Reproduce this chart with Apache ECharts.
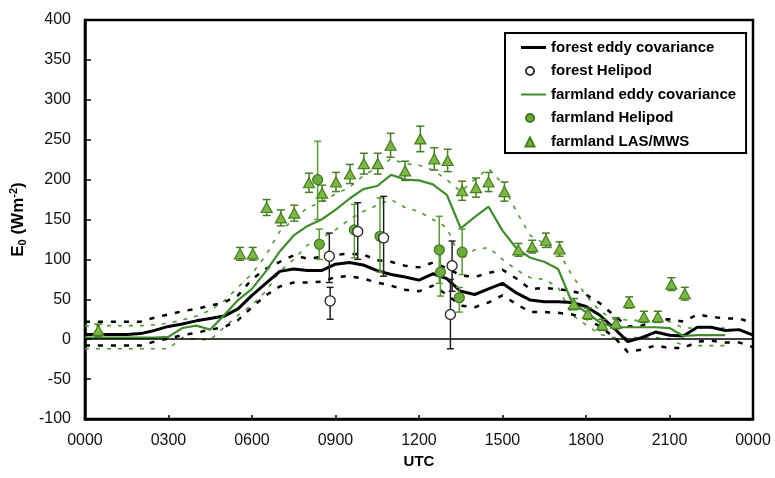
<!DOCTYPE html>
<html>
<head>
<meta charset="utf-8">
<script src="https://cdn.jsdelivr.net/npm/echarts@6/dist/echarts.min.js"></script>
<style>
html,body{margin:0;padding:0;background:#fff;}
#chart{width:775px;height:478px;}
</style>
</head>
<body>
<div id="chart"></div>
<script>
// ---- data ----
const hours = [0,0.5,1,1.5,2,2.5,3,3.5,4,4.5,5,5.5,6,6.5,7,7.5,8,8.5,9,9.5,10,10.5,11,11.5,12,12.5,13,13.5,14,14.5,15,15.5,16,16.5,17,17.5,18,18.5,19,19.5,20,20.5,21,21.5,22,22.5,23,23.5,24];

const forestEC = [6,6,6,6,7,11,16,19,23,26,29,38,55,70,85,88,86,86,94,96,93,86,81,78,74,82,76,60,56,63,70,58,49,47,47,46,41,30,14,-3,2,9,5,4,15,15,11,12,5];
const forestECUpper = [22,22,22,22,22,27,31,35,38,42,46,55,75,88,97,105,101,103,106,107,106,99,97,92,90,96,89,80,78,83,87,76,63,64,63,60,56,45,30,16,17,24,25,22,31,28,26,26,20];
const forestECLower = [-8,-8,-8,-8,-8,-3,1,5,8,12,15,24,40,55,66,71,71,72,78,79,76,71,67,62,60,67,56,42,40,46,55,44,34,34,33,31,26,16,3,-16,-13,-8,-11,-11,-3,-2,-4,-4,-10];

const farmEC = [2,2,2,2,2,2,3,14,17,12,30,49,63,85,110,130,142,150,162,176,188,192,206,200,199,194,181,139,153,166,136,114,102,97,88,46,34,21,15,15,15,15,14,4,5,5,5];
const farmECUpper = [17,17,17,17,17,18,20,24,29,36,48,65,82,105,135,150,165,172,182,190,205,215,226,220,218,212,200,185,200,214,195,160,130,120,110,80,55,35,25,24,23,23,22,14,14,14,14];
const farmECLower = [-12,-12,-12,-12,-12,-12,-12,2,0,-1,15,30,43,60,85,100,118,127,137,150,160,168,175,165,160,150,140,100,112,115,100,87,77,75,65,30,18,6,2,2,2,2,0,-8,-8,-8,-8];

const forestHeliHours = [8.78, 8.81, 9.80, 10.73, 13.19, 13.13];
const forestHeliValues = [104, 48, 135, 127, 92, 31];
const forestHeliLow = [71, 25, 100, 79, 60, -12];
const forestHeliHigh = [133, 65, 171, 179, 123, 75];

const farmHeliHours = [8.36, 8.42, 9.68, 10.60, 12.73, 12.77, 13.55, 13.45];
const farmHeliValues = [200, 119, 137, 129, 112, 84, 109, 52];
const farmHeliLow = [150, 100, 102, 84, 70, 54, 81, 34];
const farmHeliHigh = [248, 138, 169, 177, 154, 114, 138, 65];

const lasHours = [0.48,5.57,6.03,6.53,7.04,7.52,8.05,8.52,9.02,9.52,10.02,10.52,10.98,11.50,12.05,12.55,13.03,13.55,14.05,14.50,15.07,15.57,16.07,16.56,17.05,17.57,18.07,18.58,19.08,19.55,20.08,20.58,21.07,21.55];
const lasValues = [11,107,107,165,152,158,196,183,197,207,220,220,243,211,251,226,224,186,190,197,185,112,116,124,113,44,32,18,20,46,28,28,69,57];
const lasErr = [8,8,8,10,10,10,12,10,12,12,13,13,15,12,16,14,14,12,12,12,12,8,8,9,9,7,7,7,7,7,7,7,8,8];

const xTickLabels = ['0000','0300','0600','0900','1200','1500','1800','2100','0000'];

// ---- styles ----
const FONT = "'Liberation Sans', Arial, sans-serif";
const GREEN_LINE = '#3f8d2c';
const GREEN_DASH = '#4f9a34';
const GREEN_FILL = '#7db843';
const GREEN_EDGE = '#467e22';

function zip(xs, ys) { return ys.map((v, i) => [xs[i], v]); }
function errData(xs, lo, hi) { return xs.map((x, i) => [x, lo[i], hi[i]]); }

function errRender(color, cap) {
  return function (params, api) {
    const x = api.value(0);
    const p1 = api.coord([x, api.value(1)]);
    const p2 = api.coord([x, api.value(2)]);
    const st = { stroke: color, lineWidth: 1.5 };
    return {
      type: 'group',
      children: [
        { type: 'line', shape: { x1: p1[0], y1: p1[1], x2: p2[0], y2: p2[1] }, style: st },
        { type: 'line', shape: { x1: p1[0] - cap, y1: p1[1], x2: p1[0] + cap, y2: p1[1] }, style: st },
        { type: 'line', shape: { x1: p2[0] - cap, y1: p2[1], x2: p2[0] + cap, y2: p2[1] }, style: st }
      ]
    };
  };
}

const chart = echarts.init(document.getElementById('chart'), null, { renderer: 'canvas' });

const option = {
  backgroundColor: '#fff',
  animation: false,
  textStyle: { fontFamily: FONT },
  grid: { left: 83, right: 22, top: 20, bottom: 59, show: true, borderColor: '#000', borderWidth: 2.5, backgroundColor: 'transparent' },
  legend: {
    left: 505, top: 33,
    orient: 'vertical',
    backgroundColor: '#fff',
    borderColor: '#000', borderWidth: 2,
    padding: [7, 10, 3, 15],
    itemWidth: 25, itemHeight: 14, itemGap: 8,
    textStyle: { fontFamily: FONT, fontSize: 15, fontWeight: 'bold', color: '#000', lineHeight: 15 },
    data: [
      { name: 'forest eddy covariance', icon: 'path://M0,0 M25,14 M0,5.5 L25,5.5 L25,8.5 L0,8.5 Z' },
      { name: 'forest Helipod', icon: 'path://M0,0 M25,14 M5,7 a4,4 0 1 0 8,0 a4,4 0 1 0 -8,0 Z' },
      { name: 'farmland eddy covariance', icon: 'path://M0,0 M25,14 M0,6 L25,6 L25,8 L0,8 Z' },
      { name: 'farmland Helipod', icon: 'path://M0,0 M25,14 M5,7 a4,4 0 1 0 8,0 a4,4 0 1 0 -8,0 Z' },
      { name: 'farmland LAS/MWS', icon: 'path://M0,0 M25,14 M9,2.5 L13.5,11.5 L4.5,11.5 Z' }
    ]
  },
  xAxis: {
    type: 'value', min: 0, max: 24, interval: 3,
    name: 'UTC', nameLocation: 'middle', nameGap: 34,
    nameTextStyle: { fontFamily: FONT, fontSize: 15, fontWeight: 'bold', color: '#000' },
    axisLine: { onZero: false, lineStyle: { color: '#000', width: 2.5 } },
    axisTick: { show: true, inside: true, length: 4, lineStyle: { color: '#000', width: 1.5 } },
    axisLabel: { fontFamily: FONT, fontSize: 16, color: '#111', margin: 14,
      formatter: v => xTickLabels[Math.round(v / 3)] },
    splitLine: { show: false }
  },
  yAxis: {
    type: 'value', min: -100, max: 400, interval: 50,
    name: '{b|E}{s|0}{b| (Wm}{p|-2}{b|)}', nameLocation: 'middle', nameGap: 50, nameRotate: 90,
    nameTextStyle: {
      rich: {
        b: { fontFamily: FONT, fontSize: 17, fontWeight: 'bold', color: '#000', lineHeight: 20 },
        s: { fontFamily: FONT, fontSize: 11, fontWeight: 'bold', color: '#000', lineHeight: 11, verticalAlign: 'bottom' },
        p: { fontFamily: FONT, fontSize: 11, fontWeight: 'bold', color: '#000', lineHeight: 11, verticalAlign: 'top' }
      }
    },
    axisLine: { show: true, lineStyle: { color: '#000', width: 2.5 } },
    axisTick: { show: true, inside: true, length: 6, lineStyle: { color: '#000', width: 1.5 } },
    axisLabel: { fontFamily: FONT, fontSize: 16, color: '#111', margin: 14 },
    splitLine: { show: false }
  },
  series: [
    {
      name: 'farmland EC upper', type: 'line', symbol: 'none', z: 2,
      data: zip(hours, farmECUpper),
      lineStyle: { color: GREEN_DASH, width: 1.6, type: [4, 7] }
    },
    {
      name: 'farmland EC lower', type: 'line', symbol: 'none', z: 2,
      data: zip(hours, farmECLower),
      lineStyle: { color: GREEN_DASH, width: 1.6, type: [4, 7] }
    },
    {
      name: 'forest EC upper', type: 'line', symbol: 'none', z: 2,
      data: zip(hours, forestECUpper),
      lineStyle: { color: '#000', width: 2.5, type: [5, 8] }
    },
    {
      name: 'forest EC lower', type: 'line', symbol: 'none', z: 2,
      data: zip(hours, forestECLower),
      lineStyle: { color: '#000', width: 2.5, type: [5, 8] }
    },
    {
      name: 'forest eddy covariance', type: 'line', symbol: 'none', z: 3,
      data: zip(hours, forestEC),
      itemStyle: { color: '#000' },
      lineStyle: { color: '#000', width: 3 },
      markLine: {
        silent: true, symbol: ['none', 'none'], label: { show: false },
        lineStyle: { color: '#000', width: 1.5, type: 'solid' },
        data: [{ yAxis: 0 }]
      }
    },
    {
      name: 'farmland eddy covariance', type: 'line', symbol: 'none', z: 3,
      data: zip(hours, farmEC),
      itemStyle: { color: GREEN_LINE },
      lineStyle: { color: GREEN_LINE, width: 2.2 }
    },
    {
      name: 'farmland LAS/MWS err', type: 'custom', z: 4,
      renderItem: errRender(GREEN_EDGE, 4),
      data: errData(lasHours, lasValues.map((v, i) => v - lasErr[i]), lasValues.map((v, i) => v + lasErr[i]))
    },
    {
      name: 'farmland Helipod err', type: 'custom', z: 4,
      renderItem: errRender('#5a9a34', 3.5),
      data: errData(farmHeliHours, farmHeliLow, farmHeliHigh)
    },
    {
      name: 'forest Helipod err', type: 'custom', z: 4,
      renderItem: errRender('#222', 3.5),
      data: errData(forestHeliHours, forestHeliLow, forestHeliHigh)
    },
    {
      name: 'farmland LAS/MWS', type: 'scatter', z: 5,
      symbol: 'triangle', symbolSize: [11, 10],
      itemStyle: { color: GREEN_FILL, borderColor: GREEN_EDGE, borderWidth: 1.2, opacity: 1 },
      data: zip(lasHours, lasValues)
    },
    {
      name: 'farmland Helipod', type: 'scatter', z: 5,
      symbol: 'circle', symbolSize: 10,
      itemStyle: { color: '#6cab3c', borderColor: '#3f7a22', borderWidth: 1.2, opacity: 1 },
      data: zip(farmHeliHours, farmHeliValues)
    },
    {
      name: 'forest Helipod', type: 'scatter', z: 6,
      symbol: 'circle', symbolSize: 10,
      itemStyle: { color: '#fff', borderColor: '#333', borderWidth: 1.4, opacity: 1 },
      data: zip(forestHeliHours, forestHeliValues)
    }
  ]
};

chart.setOption(option);
</script>
</body>
</html>
